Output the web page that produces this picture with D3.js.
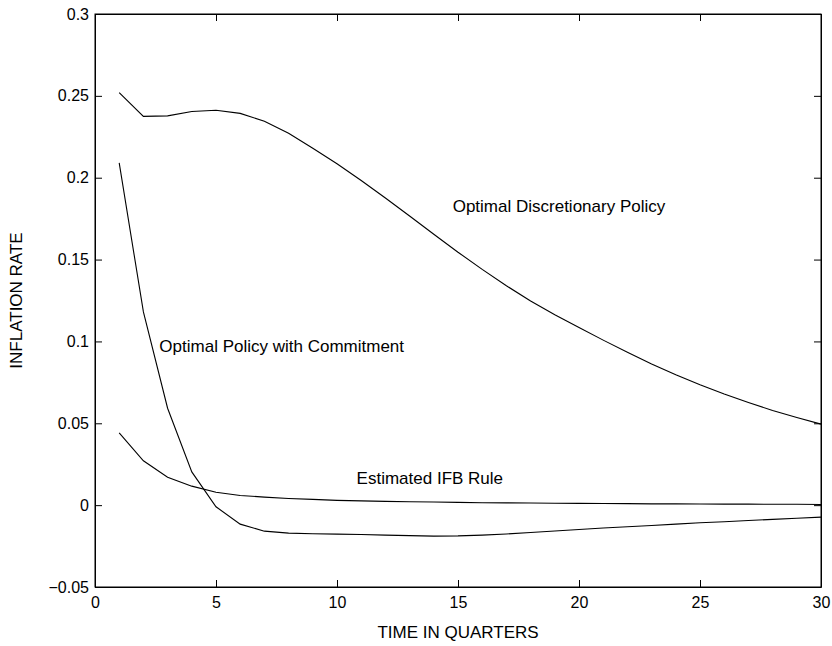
<!DOCTYPE html>
<html lang="en">

<head>
    <meta charset="UTF-8">
    <title>Inflation Rate</title>
    <script src="https://d3js.org/d3.v7.min.js"></script>
    <style>
        body {
            margin: 0;
            background: white;
        }

        text {
            font-family: "Liberation Sans", Arial, sans-serif;
            fill: black;
        }

        .series {
            fill: none;
            stroke: black;
            stroke-width: 1.1px;
        }
    </style>
</head>

<body>
    <svg width="832" height="646"></svg>

    <script>
        // quarters 1..30
        const quarters = d3.range(1, 31);

        const discretionary = [0.252, 0.2375, 0.2378, 0.2404, 0.2412, 0.2393, 0.2345, 0.2272, 0.218, 0.2085,
            0.1983, 0.1876, 0.1766, 0.1655, 0.1545, 0.144, 0.134, 0.1247, 0.1163, 0.1085,
            0.1008, 0.0934, 0.0862, 0.0797, 0.0736, 0.0679, 0.0627, 0.0578, 0.0535, 0.0495];

        const commitment = [0.2091, 0.118, 0.0592, 0.0203, -0.001, -0.0116, -0.0159, -0.0171, -0.0175, -0.0177,
            -0.0179, -0.0183, -0.0186, -0.0189, -0.0188, -0.0183, -0.0176, -0.0167, -0.0158, -0.0149,
            -0.014, -0.0132, -0.0124, -0.0116, -0.0108, -0.0101, -0.0094, -0.0087, -0.008, -0.0073];

        const ifbRule = [0.0442, 0.0271, 0.0171, 0.0116, 0.0079, 0.0059, 0.0049, 0.0041, 0.0035, 0.0029,
            0.0026, 0.0023, 0.0021, 0.0019, 0.0017, 0.0015, 0.0014, 0.0013, 0.0012, 0.0011,
            0.001, 0.0009, 0.0008, 0.0008, 0.0007, 0.0006, 0.0006, 0.0005, 0.0005, 0.0004];

        const xTicks = [0, 5, 10, 15, 20, 25, 30];
        const yTicks = [-0.05, 0, 0.05, 0.1, 0.15, 0.2, 0.25, 0.3];
        const yTickLabels = ["\u22120.05", "0", "0.05", "0.1", "0.15", "0.2", "0.25", "0.3"];

        // curve labels: [text, x, y]
        const curveLabels = [
            ["Optimal Discretionary Policy", 14.78, 0.182],
            ["Optimal Policy with Commitment", 2.66, 0.0962],
            ["Estimated IFB Rule", 10.81, 0.0155]
        ];

        const plot = { left: 95, right: 821, top: 14, bottom: 587 };

        const svg = d3.select("svg");

        const x = d3.scaleLinear().domain([0, 30]).range([plot.left, plot.right]);
        const y = d3.scaleLinear().domain([-0.05, 0.3]).range([plot.bottom, plot.top]);

        const line = d3.line()
            .x((d, i) => x(quarters[i]))
            .y(d => y(d));

        // axes with inward ticks
        const fontSize = "16px";

        svg.append("g")
            .attr("transform", `translate(0,${plot.bottom})`)
            .call(d3.axisBottom(x).tickValues(xTicks).tickSize(-7).tickSizeOuter(0).tickPadding(10))
            .call(g => g.selectAll("text").style("font-size", fontSize));

        svg.append("g")
            .attr("transform", `translate(${plot.left},0)`)
            .call(d3.axisLeft(y).tickValues(yTicks).tickSize(-7).tickSizeOuter(0).tickPadding(6)
                .tickFormat((d, i) => yTickLabels[i]))
            .call(g => g.selectAll("text").style("font-size", fontSize));

        svg.append("g")
            .attr("transform", `translate(0,${plot.top})`)
            .call(d3.axisTop(x).tickValues(xTicks).tickSize(-7).tickSizeOuter(0).tickFormat(""));

        svg.append("g")
            .attr("transform", `translate(${plot.right},0)`)
            .call(d3.axisRight(y).tickValues(yTicks).tickSize(-7).tickSizeOuter(0).tickFormat(""));

        svg.selectAll("g").attr("font-family", null);
        svg.selectAll(".domain").attr("stroke", "black");
        svg.selectAll(".tick line").attr("stroke", "black");

        svg.append("rect")
            .attr("x", plot.left).attr("y", plot.top)
            .attr("width", plot.right - plot.left).attr("height", plot.bottom - plot.top)
            .attr("fill", "none").attr("stroke", "black").attr("stroke-width", 1);

        // series
        [discretionary, commitment, ifbRule].forEach(s => {
            svg.append("path")
                .datum(s)
                .attr("class", "series")
                .attr("d", line);
        });

        // curve labels
        svg.selectAll(".curve-label")
            .data(curveLabels)
            .enter()
            .append("text")
            .attr("class", "curve-label")
            .attr("x", d => x(d[1]))
            .attr("y", d => y(d[2]))
            .attr("dominant-baseline", "middle")
            .style("font-size", "17px")
            .text(d => d[0]);

        // axis titles
        svg.append("text")
            .attr("x", (plot.left + plot.right) / 2)
            .attr("y", 634)
            .attr("text-anchor", "middle")
            .attr("dominant-baseline", "middle")
            .style("font-size", "17px")
            .text("TIME IN QUARTERS");

        svg.append("text")
            .attr("transform", `translate(18,${(plot.top + plot.bottom) / 2}) rotate(-90)`)
            .attr("text-anchor", "middle")
            .attr("dominant-baseline", "middle")
            .style("font-size", "17px")
            .text("INFLATION RATE");
    </script>
</body>

</html>
